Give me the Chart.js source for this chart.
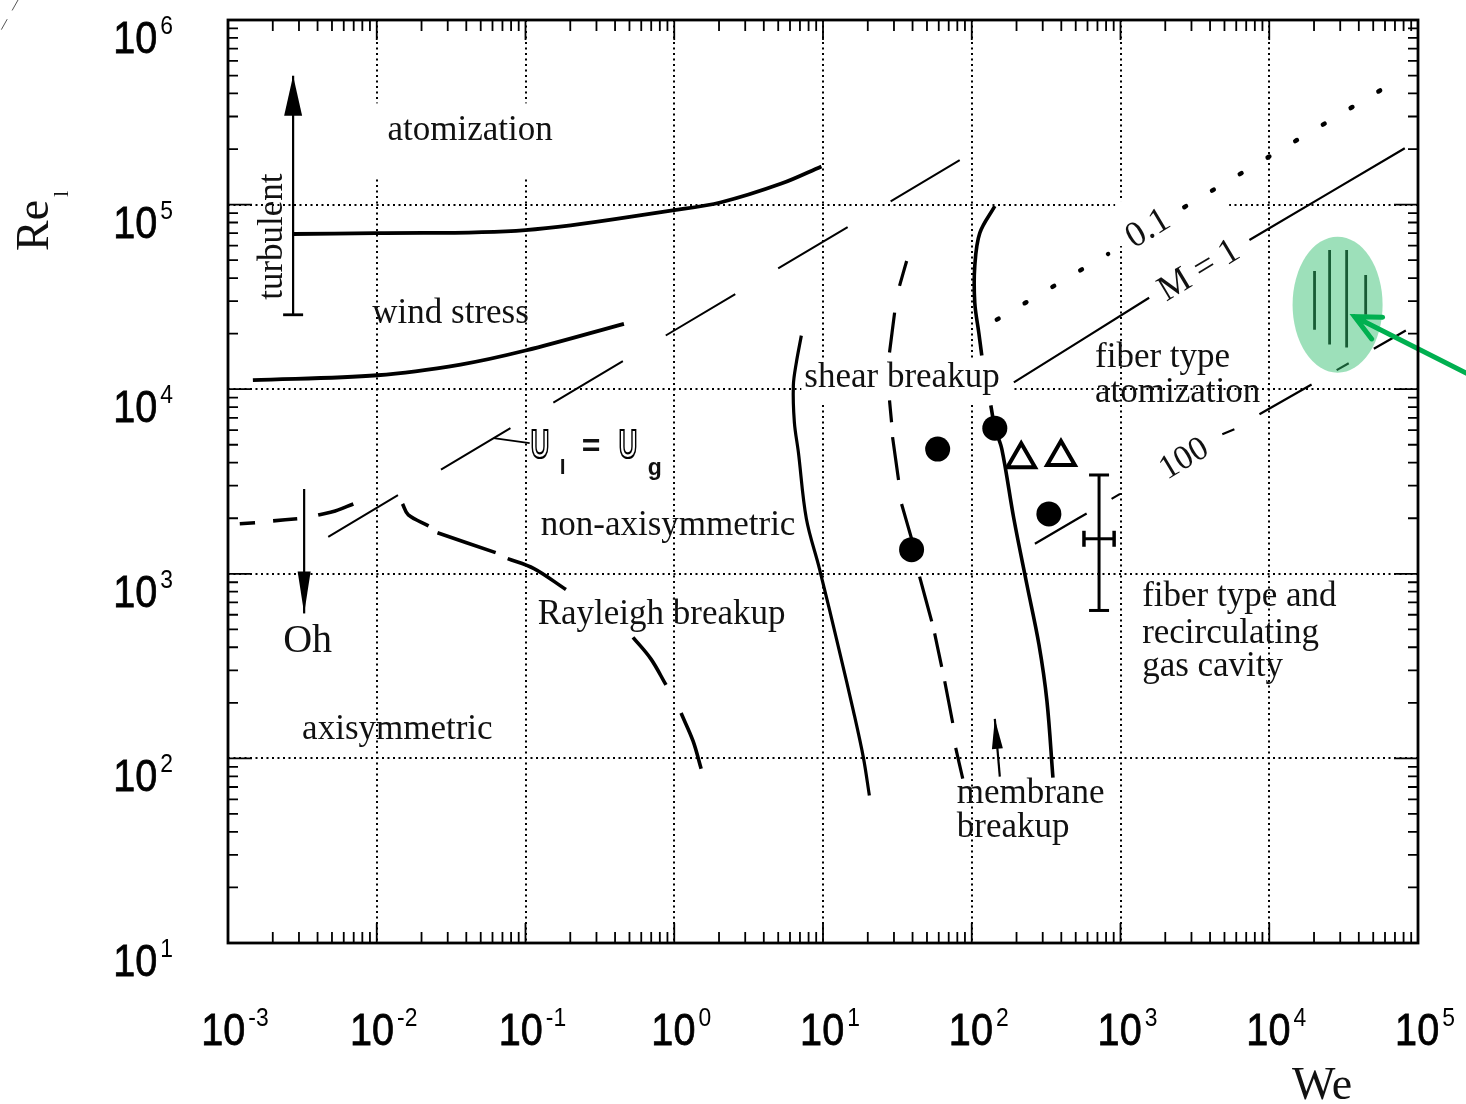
<!DOCTYPE html>
<html>
<head>
<meta charset="utf-8">
<title>Liquid jet breakup regimes: Re_l versus We</title>
<script src="https://cdn.jsdelivr.net/npm/chart.js@4.4.1/dist/chart.umd.min.js"></script>
<style>
  html, body { margin: 0; padding: 0; background: #fff; }
  canvas { display: block; }
</style>
</head>
<body>
<canvas id="regimeChart" width="1466" height="1104"></canvas>
<script>
// axis decades and their tick exponents
const xDecades = [1e-3, 1e-2, 1e-1, 1e0, 1e1, 1e2, 1e3, 1e4, 1e5];
const xTickExp = ['-3', '-2', '-1', '0', '1', '2', '3', '4', '5'];
const yDecades = [1e1, 1e2, 1e3, 1e4, 1e5, 1e6];
const yTickExp = ['1', '2', '3', '4', '5', '6'];

// regime boundaries (We, Re_l); null = break in the line
const atomizationWe = [2.74e-3, 9.8e-3, 0.1, 1.0, 2.07, 5.25, 9.76];
const atomizationRe = [6.93e4, 7.0e4, 7.28e4, 9.33e4, 1.03e5, 1.30e5, 1.61e5];

const windStressWe = [1.47e-3, 1.01e-2, 3.66e-2, 0.1, 0.459];
const windStressRe = [1.12e4, 1.19e4, 1.36e4, 1.62e4, 2.26e4];

const ohWe = [1.2e-3, 1.52e-3, null, 2.01e-3, 2.92e-3, null, 4.04e-3, 5.26e-3, 6.96e-3];
const ohRe = [1866, 1889, null, 1936, 1986, null, 2085, 2190, 2390];

const equalVelWe = [4.72e-3, 83.0];
const equalVelRe = [1587, 1.74e5];

const rayleighWe = [1.49e-2, 1.63e-2, 2.23e-2, null, 2.56e-2, 6.30e-2, null, 7.59e-2, 0.114, 0.187, null, 0.528, 0.698, 0.880, null, 1.111, 1.339, 1.516];
const rayleighRe = [2390, 2085, 1820, null, 1668, 1302, null, 1208, 1067, 822, null, 453, 345, 250, null, 176, 124, 87.9];

const shearWe = [7.15, 6.62, 6.32, 6.42, 6.83, 7.73, 9.46, 12.9, 16.0, 18.7, 20.5];
const shearRe = [1.95e4, 1.395e4, 1.048e4, 6620, 4560, 1986, 1067, 380, 181, 100.7, 62.9];

const membraneWe = [36.5, 32.7, null, 30.3, 28.0, null, 28.0, 28.9, null, 29.35, 32.2, null, 33.75, 39.4, null, 44.6, 53.8, null, 56.3, 62.8, null, 65.8, 74.5, null, 78.0, 87.0];
const membraneRe = [4.95e4, 3.63e4, null, 2.60e4, 1.58e4, null, 8700, 6620, null, 5500, 3220, null, 2390, 1548, null, 966, 552, null, 476, 313, null, 262, 155.6, null, 114, 77.6];

const fiberWe = [142.9, 113.2, 104.8, 104.8, 111.5, 116.8, null, 134.3, 142.9, 159.3, 191.9, 234.8, 282.8, 320.2, 351.4];
const fiberRe = [9.80e4, 7.01e4, 4.65e4, 2.94e4, 2.025e4, 1.522e4, null, 8180, 6220, 4740, 1986, 875, 415, 204.5, 78.6];

// lines of constant momentum ratio M
const m01We = [147.4, 825, null, 2684, 6.98e4];
const m01Re = [2.38e4, 5.40e4, null, 9.68e4, 4.63e5];
const m1We = [191.9, 1558, null, 7358, 8.15e4];
const m1Re = [1.088e4, 3.13e4, null, 6.43e4, 2.02e5];
const m100We = [265.8, 994, null, 4836, 5828, null, 8590, 8.28e4];
const m100Re = [1455, 2710, null, 5700, 6070, null, 7310, 2.08e4];

// measured points
const dotsWe = [59.0, 142.9, 39.4, 330];
const dotsRe = [4740, 6150, 1351, 2110];
const triWe = [215, 398];
const triRe = [4180, 4290];
const errWe = 717.5, errRe = 1548;
const errWeRange = [568, 906];
const errReRange = [633, 3430];

// highlighted data (vertical bars inside the green ellipse)
const hiWe = [2.016e4, 2.016e4, null, 2.545e4, 2.545e4, null, 3.313e4, 3.313e4, null, 4.448e4, 4.448e4];
const hiRe = [4.37e4, 2.10e4, null, 5.68e4, 1.745e4, null, 5.68e4, 1.68e4, null, 4.16e4, 2.53e4];
const highlightCenter = { we: 2.88e4, re: 2.87e4 };

// arrows: [tailWe, tailRe, tipWe, tipRe]
const turbulentArrow = [2.74e-3, 2.53e4, 2.74e-3, 4.99e5];
const ohArrow = [3.25e-3, 2880, 3.25e-3, 610];
const membraneArrow = [154.4, 79.6, 142.9, 163.6];
const greenArrow = [2.2e5, 1.202e4, 3.75e4, 2.47e4];
const equalVelLeader = [6.10e-2, 5430, 0.1067, 5100];

// region labels (left end of baseline); clear = grid gap around label in px
const regionLabels = [
  { text: 'atomization', we: 1.18e-2, re: 2.23e5, clear: [-17, -37, 173, 36] },
  { text: 'wind stress', we: 9.34e-3, re: 2.29e4 },
  { text: 'non-axisymmetric', we: 0.1266, re: 1627 },
  { text: 'Rayleigh breakup', we: 0.1208, re: 532 },
  { text: 'axisymmetric', we: 3.15e-3, re: 127.6 },
  { text: 'shear breakup', we: 7.49, re: 1.023e4, clear: [-3, -27, 207, 17] },
  { text: 'fiber type', we: 674, re: 1.311e4 },
  { text: 'atomization', we: 674, re: 8490 },
  { text: 'fiber type and', we: 1398, re: 665.6 },
  { text: 'recirculating', we: 1398, re: 420 },
  { text: 'gas cavity', we: 1398, re: 279 },
  { text: 'membrane', we: 79.25, re: 57.6 },
  { text: 'breakup', we: 79.25, re: 37.3 },
  { text: 'Oh', we: 2.35e-3, re: 376, size: 40 }
];
// labels written along the M lines (centre)
const lineLabels = [
  { text: '0.1', we: 1535, re: 7.37e4, size: 36, clear: [-33, -28, 81, 17] },
  { text: 'M = 1', we: 3385, re: 4.37e4, size: 36 },
  { text: '100', we: 2684, re: 4180, size: 34 }
];
const turbulentLabel = { text: 'turbulent', we: 2.31e-3, re: 3.05e4 };
const equalVelLabel = { we: 0.1084, re: 4240 };

const toPoints = (we, re) => we.map((w, i) =>
  (w === null || re[i] === null) ? { x: null, y: null } : { x: w, y: re[i] });

function curve(label, we, re, width, dash, extra) {
  return Object.assign({
    label: label,
    data: toPoints(we, re),
    showLine: true,
    borderColor: '#000',
    borderWidth: width,
    borderDash: dash || [],
    pointRadius: 0,
    pointHitRadius: 0,
    tension: 0.35,
    spanGaps: false,
    fill: false
  }, extra || {});
}

const datasets = [
  { label: 'filled points', data: toPoints(dotsWe, dotsRe), showLine: false,
    pointRadius: 12.5, pointBackgroundColor: '#000', pointBorderWidth: 0 },
  { label: 'open points', data: toPoints(triWe, triRe), showLine: false, pointStyle: 'triangle',
    pointRadius: 16, pointBackgroundColor: '#fff', pointBorderColor: '#000', pointBorderWidth: 4 },
  { label: 'Re range', data: toPoints([errWe, errWe], errReRange), showLine: true, borderColor: '#000',
    borderWidth: 3, pointStyle: 'line', pointRadius: 10, pointBorderWidth: 3, pointBorderColor: '#000' },
  { label: 'We range', data: toPoints(errWeRange, [errRe, errRe]), showLine: true, borderColor: '#000',
    borderWidth: 3, pointStyle: 'line', pointRotation: 90, pointRadius: 8, pointBorderWidth: 3.5, pointBorderColor: '#000' },
  curve('atomization', atomizationWe, atomizationRe, 3.8),
  curve('wind stress', windStressWe, windStressRe, 3.8),
  curve('Oh', ohWe, ohRe, 3.6),
  curve('Ul = Ug', equalVelWe, equalVelRe, 2, [81, 50]),
  curve('Rayleigh', rayleighWe, rayleighRe, 3.6),
  curve('shear', shearWe, shearRe, 3.2),
  curve('membrane', membraneWe, membraneRe, 3.2),
  curve('fiber', fiberWe, fiberRe, 3.6),
  curve('M = 0.1', m01We, m01Re, 4.5, [2, 30.3], { borderCapStyle: 'round' }),
  curve('M = 1', m1We, m1Re, 2.2),
  curve('M = 100', m100We, m100Re, 2.2, [60, 29, 14, 29]),
  curve('highlight', hiWe, hiRe, 2.8)
];

function arrowHead(ctx, x0, y0, x1, y1, len, half) {
  const a = Math.atan2(y1 - y0, x1 - x0);
  const bx = x1 - len * Math.cos(a), by = y1 - len * Math.sin(a);
  ctx.beginPath();
  ctx.moveTo(x1, y1);
  ctx.lineTo(bx + half * Math.sin(a), by - half * Math.cos(a));
  ctx.lineTo(bx - half * Math.sin(a), by + half * Math.cos(a));
  ctx.closePath();
  ctx.fill();
}

function drawPower(ctx, exp, x, y, align) {
  const sx = 0.88;
  ctx.font = '45px "Liberation Sans"';
  const wb = ctx.measureText('10').width * sx;
  ctx.font = '26px "Liberation Sans"';
  const ws = ctx.measureText(exp).width * sx;
  const total = wb + 3 + ws;
  const x0 = align === 'center' ? x - total / 2 : x - total;
  ctx.save();
  ctx.translate(x0, y); ctx.scale(sx, 1);
  ctx.font = '45px "Liberation Sans"';
  ctx.fillText('10', 0, 0);
  ctx.strokeText('10', 0, 0);
  ctx.restore();
  ctx.save();
  ctx.translate(x0 + wb + 3, y - 19); ctx.scale(sx, 1);
  ctx.font = '26px "Liberation Sans"';
  ctx.fillText(exp, 0, 0);
  ctx.restore();
}

const overlay = {
  id: 'regimeOverlay',
  beforeDatasetsDraw(chart) {
    const { ctx, scales: { x, y } } = chart;
    ctx.save();
    ctx.fillStyle = '#fff';
    regionLabels.concat(lineLabels).forEach(l => {
      if (!l.clear) return;
      const px = x.getPixelForValue(l.we), py = y.getPixelForValue(l.re), c = l.clear;
      ctx.fillRect(px + c[0], py + c[1], c[2] - c[0], c[3] - c[1]);
    });
    ctx.restore();
  },
  afterDatasetsDraw(chart) {
    const { ctx, scales: { x, y } } = chart;
    const P = (we, re) => [x.getPixelForValue(we), y.getPixelForValue(re)];
    ctx.save();

    // green highlight ellipse over the bars
    const [cx, cy] = P(highlightCenter.we, highlightCenter.re);
    ctx.fillStyle = 'rgba(50, 190, 110, 0.48)';
    ctx.beginPath();
    ctx.ellipse(cx, cy, 45, 68, 0, 0, Math.PI * 2);
    ctx.fill();

    // black arrows
    ctx.strokeStyle = '#000';
    ctx.fillStyle = '#000';
    ctx.lineWidth = 2.2;
    [[turbulentArrow, 40, 9], [ohArrow, 42, 6.5], [membraneArrow, 30, 5.5]].forEach(([a, len, half]) => {
      const [x0, y0] = P(a[0], a[1]), [x1, y1] = P(a[2], a[3]);
      ctx.beginPath(); ctx.moveTo(x0, y0); ctx.lineTo(x1, y1); ctx.stroke();
      arrowHead(ctx, x0, y0, x1, y1, len, half);
    });
    const [tx, ty] = P(turbulentArrow[0], turbulentArrow[1]);
    ctx.lineWidth = 2.8;
    ctx.beginPath(); ctx.moveTo(tx - 10, ty); ctx.lineTo(tx + 10, ty); ctx.stroke();

    // leader from the Ul = Ug line to its label
    const [lx0, ly0] = P(equalVelLeader[0], equalVelLeader[1]);
    const [lx1, ly1] = P(equalVelLeader[2], equalVelLeader[3]);
    ctx.lineWidth = 1.8;
    ctx.beginPath(); ctx.moveTo(lx0, ly0); ctx.lineTo(lx1, ly1); ctx.stroke();

    // green pointer arrow
    const [gx0, gy0] = P(greenArrow[0], greenArrow[1]);
    const [gx1, gy1] = P(greenArrow[2], greenArrow[3]);
    const back = Math.atan2(gy0 - gy1, gx0 - gx1);
    ctx.strokeStyle = '#00b050';
    ctx.lineWidth = 5;
    ctx.lineCap = 'round';
    ctx.beginPath();
    ctx.moveTo(gx0, gy0); ctx.lineTo(gx1, gy1);
    ctx.moveTo(gx1 + 28 * Math.cos(back - 0.45), gy1 + 28 * Math.sin(back - 0.45));
    ctx.lineTo(gx1, gy1);
    ctx.lineTo(gx1 + 28 * Math.cos(back + 0.45), gy1 + 28 * Math.sin(back + 0.45));
    ctx.stroke();
    ctx.restore();
  },
  afterDraw(chart) {
    const { ctx, chartArea: a, scales: { x, y } } = chart;
    ctx.save();

    // inward tick marks on all four sides
    ctx.strokeStyle = '#000';
    ctx.lineWidth = 1.8;
    ctx.beginPath();
    xDecades.slice(0, -1).forEach(d => {
      for (let m = 1; m < 10; m++) {
        const p = x.getPixelForValue(m * d), len = m === 1 ? 20 : 11;
        ctx.moveTo(p, a.bottom); ctx.lineTo(p, a.bottom - len);
        ctx.moveTo(p, a.top); ctx.lineTo(p, a.top + len);
      }
    });
    yDecades.slice(0, -1).forEach(d => {
      for (let m = 1; m < 10; m++) {
        const p = y.getPixelForValue(m * d), len = m === 1 ? 24 : 10;
        ctx.moveTo(a.left, p); ctx.lineTo(a.left + len, p);
        ctx.moveTo(a.right, p); ctx.lineTo(a.right - len, p);
      }
    });
    ctx.stroke();
    ctx.lineWidth = 2.8;
    ctx.strokeRect(a.left, a.top, a.right - a.left, a.bottom - a.top);

    // tick labels
    ctx.fillStyle = '#000';
    ctx.lineWidth = 0.8;
    ctx.textAlign = 'left';
    ctx.textBaseline = 'alphabetic';
    xDecades.forEach((v, i) => drawPower(ctx, xTickExp[i], x.getPixelForValue(v) + 7, a.bottom + 102, 'center'));
    yDecades.forEach((v, i) => drawPower(ctx, yTickExp[i], a.left - 55, y.getPixelForValue(v) + 33, 'right'));

    // axis titles
    ctx.fillStyle = '#111';
    ctx.save();
    ctx.translate(a.left - 180, a.top + 231);
    ctx.rotate(-Math.PI / 2);
    ctx.font = '46px "Liberation Serif"';
    ctx.fillText('Re', 0, 0);
    ctx.font = '22px "Liberation Serif"';
    ctx.fillText('l', 54, 20);
    ctx.restore();
    ctx.font = '46px "Liberation Serif"';
    ctx.textAlign = 'center';
    ctx.fillText('We', a.right - 96, a.bottom + 156);

    // region labels
    ctx.textAlign = 'left';
    regionLabels.forEach(l => {
      ctx.font = (l.size || 35) + 'px "Liberation Serif"';
      ctx.fillText(l.text, x.getPixelForValue(l.we), y.getPixelForValue(l.re));
    });
    ctx.save();
    ctx.translate(x.getPixelForValue(turbulentLabel.we), y.getPixelForValue(turbulentLabel.re));
    ctx.rotate(-Math.PI / 2);
    ctx.font = '35px "Liberation Serif"';
    ctx.fillText(turbulentLabel.text, 0, 0);
    ctx.restore();

    // labels along the M lines, rotated to the line slope
    const ang = Math.atan2(y.getPixelForValue(m1Re[4]) - y.getPixelForValue(m1Re[0]),
                           x.getPixelForValue(m1We[4]) - x.getPixelForValue(m1We[0]));
    ctx.textAlign = 'center';
    ctx.textBaseline = 'middle';
    lineLabels.forEach(l => {
      ctx.save();
      ctx.translate(x.getPixelForValue(l.we), y.getPixelForValue(l.re));
      ctx.rotate(ang);
      ctx.font = l.size + 'px "Liberation Serif"';
      ctx.fillText(l.text, 0, 0);
      ctx.restore();
    });

    // "Ul = Ug" in hollow letters
    const ux = x.getPixelForValue(equalVelLabel.we), uy = y.getPixelForValue(equalVelLabel.re);
    ctx.textAlign = 'left';
    ctx.textBaseline = 'alphabetic';
    ctx.strokeStyle = '#000';
    ctx.lineWidth = 2.2;
    [[0, 'U'], [88, 'U']].forEach(([dx, ch]) => {
      ctx.save();
      ctx.translate(ux + dx, uy); ctx.scale(0.64, 1);
      ctx.font = 'bold 40px "Liberation Sans"';
      ctx.strokeText(ch, 0, 0);
      ctx.restore();
    });
    ctx.font = 'bold 32px "Liberation Sans"';
    ctx.fillText('=', ux + 51, uy - 2);
    ctx.font = 'bold 21px "Liberation Sans"';
    ctx.fillText('l', ux + 29, uy + 16);
    ctx.font = 'bold 23px "Liberation Sans"';
    ctx.fillText('g', ux + 117, uy + 17);

    // scan mark in the top-left corner
    ctx.strokeStyle = '#555';
    ctx.lineWidth = 1;
    ctx.setLineDash([12, 10]);
    ctx.beginPath(); ctx.moveTo(18, 0); ctx.lineTo(0, 32); ctx.stroke();
    ctx.restore();
  }
};

const logAxis = (min, max, decades, isX) => ({
  type: 'logarithmic',
  min: min,
  max: max,
  ticks: { display: false },
  grid: { color: '#000', lineWidth: 2, drawTicks: false },
  border: { display: false, dash: [2, 3.5] },
  afterBuildTicks: axis => { axis.ticks = decades.map(v => ({ value: v })); },
  afterFit: axis => { if (isX) axis.height = 0; else axis.width = 0; }
});

new Chart(document.getElementById('regimeChart'), {
  type: 'scatter',
  data: { datasets: datasets },
  options: {
    responsive: false,
    animation: false,
    devicePixelRatio: 1,
    events: [],
    layout: { padding: { left: 228, top: 16, right: 48, bottom: 161 } },
    plugins: { legend: { display: false }, tooltip: { enabled: false } },
    scales: {
      x: logAxis(1e-3, 1e5, xDecades, true),
      y: logAxis(1e1, 1e6, yDecades, false)
    }
  },
  plugins: [overlay]
});
</script>
</body>
</html>
